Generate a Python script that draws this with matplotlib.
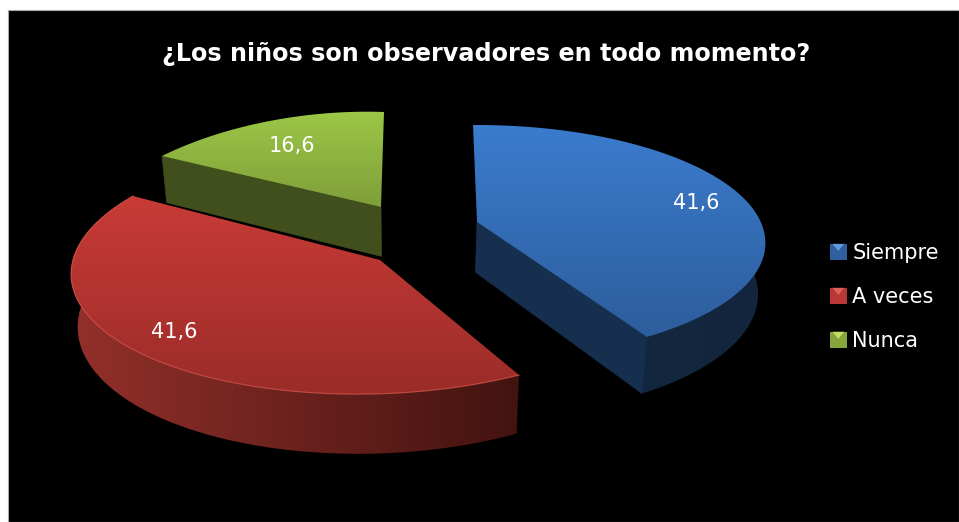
import numpy as np
import matplotlib
matplotlib.use("Agg")
import matplotlib.pyplot as plt
from matplotlib.patches import Polygon, Rectangle, Patch
from matplotlib.legend_handler import HandlerPatch
from matplotlib.colors import to_rgb

TITLE = "¿Los niños son observadores en todo momento?"
categories = ["Siempre", "A veces", "Nunca"]
values = [41.6, 41.6, 16.6]
value_labels = ["41,6", "41,6", "16,6"]

W, H = 959, 522

# Screen calibration of each exploded slice: apex, start of arc, middle of arc, end of arc
views = [
    dict(apex=(477, 222), start=(473, 125), mid=(738, 193), end=(647, 337)),
    dict(apex=(380, 260), start=(519, 375), mid=(140, 353), end=(133, 196)),
    dict(apex=(381, 207), start=(162, 156), mid=(275, 120), end=(384, 112)),
]
top_cols = [("#3b7cce", "#2d5d9c"), ("#c93b37", "#9b2c28"), ("#9cc746", "#7f9f3a")]
wall_cols = [("#13273f", "#12253c"), ("#93302b", "#431310"), ("#404f1c", "#404f1c")]
face_cols = ["#172f4e", None, "#404f1c"]
swatch_cols = ["#2f5f9f", "#b93735", "#86a53b"]
swatch_tips = ["#5f9bdc", "#e0605c", "#c3de62"]
label_pos = [(696, 203), (174, 332), (292, 146)]


def homography(src, dst):
    rows = []
    for (x, y), (u, v) in zip(src, dst):
        rows.append([x, y, 1, 0, 0, 0, -u * x, -u * y, -u])
        rows.append([0, 0, 0, x, y, 1, -v * x, -v * y, -v])
    return np.linalg.svd(np.array(rows))[2][-1].reshape(3, 3)


def project(M, pts):
    p = np.c_[pts, np.ones(len(pts))] @ M.T
    return p[:, :2] / p[:, 2:]


def lower(p):
    p = np.asarray(p, float)
    return np.c_[400 + (p[:, 0] - 400) * 0.98, p[:, 1] * 1.055 + 38]


def gradient_fill(ax, poly, c0, c1, vertical=True, z=1):
    x0, y0 = poly.min(axis=0)
    x1, y1 = poly.max(axis=0)
    t = np.linspace(0, 1, 256)[:, None]
    rgb = (1 - t) * np.array(to_rgb(c0)) + t * np.array(to_rgb(c1))
    img = rgb[:, None, :] if vertical else rgb[None, :, :]
    im = ax.imshow(img, extent=(x0, x1, y1, y0), origin="upper", aspect="auto", zorder=z,
                   interpolation="bilinear")
    patch = Polygon(poly, closed=True, transform=ax.transData, fc="none", ec="none")
    ax.add_patch(patch)
    im.set_clip_path(patch)


class SwatchHandler(HandlerPatch):
    def __init__(self, tip):
        super().__init__()
        self.tip = tip

    def create_artists(self, legend, orig, xd, yd, width, height, fontsize, trans):
        rect = Rectangle((-xd, -yd), width, height, fc=orig.get_facecolor(), ec="none", transform=trans)
        tri = Polygon([(-xd + width * 0.15, -yd + height), (-xd + width * 0.85, -yd + height),
                       (-xd + width * 0.5, -yd + height * 0.55)], closed=True,
                      fc=self.tip, ec="none", transform=trans)
        return [rect, tri]


fig = plt.figure(figsize=(W / 100, H / 100), dpi=100, facecolor="white")
ax = fig.add_axes([0, 0, 1, 1])
ax.set_axis_off()
ax.add_patch(Rectangle((8, 10), W - 8, H - 10, fc="black", ec="#a8a8a8", lw=0.8, zorder=0))

shares = np.array(values) / np.sum(values) * 2 * np.pi
edges = np.r_[0, np.cumsum(shares)]
plane = lambda th: np.c_[np.sin(th), np.cos(th)]

draw_order = [2, 1, 0]
for n, i in enumerate(draw_order):
    z = 2 + n * 3
    a0, a1 = edges[i], edges[i + 1]
    v = views[i]
    M = homography(
        np.vstack([[0, 0], plane(np.array([a0, (a0 + a1) / 2, a1]))]),
        [v["apex"], v["start"], v["mid"], v["end"]],
    )
    thetas = np.linspace(a0, a1, 160)
    arc = project(M, plane(thetas))
    apex = np.array([v["apex"]], float)
    top = np.vstack([apex, arc])
    front = arc[np.cos(thetas) < 0.3]
    if len(front) > 1:
        wall = np.vstack([front, lower(front)[::-1]])
        gradient_fill(ax, wall, wall_cols[i][0], wall_cols[i][1], vertical=False, z=z)
    if face_cols[i]:
        edge = arc[-1:] if i == 0 else arc[:1]
        face = np.vstack([apex, edge, lower(edge), lower(apex)])
        ax.add_patch(Polygon(face, closed=True, fc=face_cols[i], ec=face_cols[i], lw=0.5, zorder=z + 1))
    gradient_fill(ax, top, top_cols[i][0], top_cols[i][1], z=z + 2)
    if i == 1:
        ax.plot(arc[:, 0], arc[:, 1], color="#d8574f", lw=0.8, alpha=0.8, zorder=z + 2.5)
    ax.text(*label_pos[i], value_labels[i], color="white", fontsize=15, ha="center", va="center",
            family="DejaVu Sans", zorder=20)

ax.set_xlim(0, W)
ax.set_ylim(H, 0)

ax.text(486, 54, TITLE, color="white", fontsize=17.2, fontweight="bold", ha="center", va="center",
        family="DejaVu Sans", zorder=20)

handles = [Patch(fc=c, ec="none") for c in swatch_cols]
leg = ax.legend(
    handles=handles,
    labels=categories,
    handler_map={h: SwatchHandler(t) for h, t in zip(handles, swatch_tips)},
    loc="center left",
    bbox_to_anchor=(830, 297),
    bbox_transform=ax.transData,
    frameon=False,
    labelcolor="white",
    handlelength=0.8,
    handleheight=0.8,
    handletextpad=0.28,
    labelspacing=1.15,
    borderpad=0,
    borderaxespad=0,
    prop={"family": "DejaVu Sans", "size": 15},
)
leg.set_zorder(20)

fig.savefig("out.png", dpi=100, facecolor="white")
